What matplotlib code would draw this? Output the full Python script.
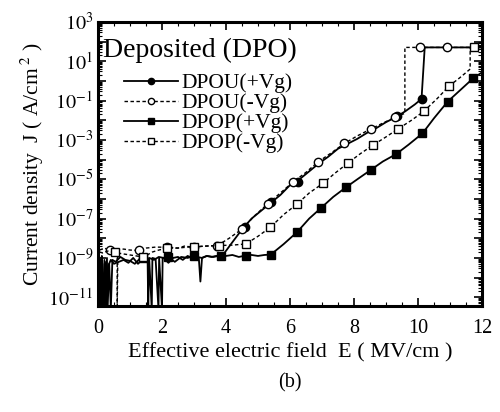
import matplotlib
matplotlib.use("Agg")
import matplotlib.pyplot as plt
import numpy as np
from matplotlib.ticker import MultipleLocator, LogLocator, FuncFormatter, NullFormatter

plt.rcParams['font.family'] = ['Liberation Serif', 'DejaVu Serif']
plt.rcParams['mathtext.fontset'] = 'stix'

# lines: field (MV/cm) and log10 of current density (A/cm^2)
dpou_p_x = [0.05, 0.1, 0.12, 0.15, 0.2, 0.22, 0.28, 0.3, 0.35, 0.4, 0.45, 0.55, 0.7, 0.85, 1.0, 1.15, 1.3,
            1.45, 1.6, 1.75, 1.9, 2.05, 2.2, 2.35, 2.5, 2.65, 2.8, 2.95, 3.1, 3.25, 3.4, 3.55,
            3.7, 3.9, 4.2, 4.5, 4.8, 5.1, 5.4, 5.7, 6.0, 6.3, 6.6, 6.9, 7.2, 7.5, 7.8, 8.1,
            8.4, 8.7, 9.0, 9.3, 9.6, 9.9, 10.11, 10.21, 11.0, 12.0]
dpou_p_y = [-9.0, -11.6, -8.9, -11.6, -9.1, -11.6, -9.0, -11.6, -9.3, -11.6, -9.1, -9.2, -8.95, -9.1, -9.15, -9.3, -9.05,
            -9.2, -9.0, -9.1, -8.95, -9.0, -9.25, -9.0, -8.95, -9.1, -8.9, -9.0, -8.95, -9.0, -8.9, -8.95,
            -8.9, -8.86, -8.2, -7.55, -7.0, -6.6, -6.2, -5.8, -5.3, -5.0, -4.6, -4.2, -3.85, -3.45, -3.2, -2.95,
            -2.65, -2.4, -2.1, -1.85, -1.55, -1.2, -0.92, 1.70, 1.70, 1.70]
dpou_p_mx = [4.6, 5.42, 6.24, 9.35, 10.11]
dpou_p_my = [-7.45, -6.17, -5.16, -1.8, -0.92]

dpou_n_x = [0.05, 0.2, 0.375, 0.6, 0.8, 1.0, 1.27, 1.5, 1.8, 2.16, 2.5, 2.7, 3.0, 3.3, 3.73,
            4.1, 4.51, 4.9, 5.3, 5.7, 6.08, 6.5, 6.86, 7.3, 7.7, 8.1, 8.52, 8.9, 9.27, 9.59,
            9.59, 12.0]
dpou_n_y = [-8.6, -8.5, -8.62, -8.6, -8.55, -8.6, -8.62, -8.5, -8.45, -8.46, -8.5, -8.4, -8.46, -8.4, -8.37,
            -8.0, -7.52, -6.85, -6.25, -5.7, -5.16, -4.65, -4.14, -3.65, -3.18, -2.8, -2.45, -2.15, -1.86, -1.65,
            1.70, 1.70]
dpou_n_mx = [0.375, 1.27, 2.16, 3.0, 3.73, 4.51, 5.3, 6.08, 6.86, 7.7, 8.52, 9.27, 10.06, 10.9]
dpou_n_my = [-8.62, -8.62, -8.46, -8.46, -8.37, -7.52, -6.25, -5.16, -4.14, -3.18, -2.45, -1.86, 1.70, 1.70]

dpop_p_x = [0.05, 0.08, 0.1, 0.14, 0.18, 0.25, 0.27, 0.32, 0.4, 0.5, 0.65, 0.8, 0.95, 1.1, 1.25, 1.4,
            1.55, 1.57, 1.6, 1.68, 1.7, 1.8, 1.89, 1.91, 2.0, 2.02, 2.2, 2.4, 2.6, 2.8, 3.0,
            3.15, 3.2, 3.25, 3.4, 3.6, 3.83, 4.0, 4.2, 4.4, 4.62, 4.8, 5.0, 5.2, 5.4, 5.8,
            6.22, 6.6, 6.97, 7.35, 7.75, 8.15, 8.54, 8.9, 9.32, 9.7, 10.14, 10.5, 10.93, 11.3, 11.73,
            12.0]
dpop_p_y = [-11.6, -9.1, -11.6, -9.3, -11.6, -9.2, -11.6, -9.4, -9.1, -9.3, -9.2, -9.1, -9.25, -9.0, -9.3, -9.05,
            -9.1, -11.6, -9.05, -11.6, -9.0, -9.05, -11.6, -9.0, -11.6, -9.0, -8.95, -9.2, -8.95, -9.0, -8.9,
            -9.0, -10.2, -9.0, -8.9, -8.95, -8.88, -8.9, -8.85, -8.95, -8.88, -8.85, -8.9, -8.85, -8.83, -8.3,
            -7.69, -7.0, -6.46, -5.9, -5.41, -4.95, -4.51, -4.1, -3.72, -3.25, -2.67, -1.9, -1.05, -0.5, 0.14,
            0.43]
dpop_p_mx = [1.4, 2.2, 3.0, 3.83, 4.62, 5.40, 6.22, 6.97, 7.75, 8.54, 9.32, 10.14, 10.93, 11.73]
dpop_p_my = [-9.0, -8.95, -8.9, -8.88, -8.88, -8.83, -7.69, -6.46, -5.41, -4.51, -3.72, -2.67, -1.05, 0.14]

dpop_n_x = [0.05, 0.15, 0.3, 0.4, 0.53, 0.6, 0.6, 0.62, 0.8, 1.0, 1.2, 1.42, 1.7, 1.9, 2.16,
            2.5, 2.8, 3.0, 3.4, 3.79, 4.2, 4.62, 5.0, 5.39, 5.8, 6.23, 6.6, 7.03, 7.4, 7.8,
            8.2, 8.6, 9.0, 9.37, 9.8, 10.18, 10.6, 10.98, 11.3, 11.63, 11.63, 12.0]
dpop_n_y = [-8.7, -8.75, -8.65, -8.7, -8.71, -8.7, -11.6, -8.75, -8.8, -8.85, -8.9, -8.96, -8.7, -8.6, -8.5,
            -8.5, -8.45, -8.43, -8.4, -8.37, -8.35, -8.29, -7.9, -7.44, -6.8, -6.25, -5.7, -5.21, -4.7, -4.19,
            -3.7, -3.26, -2.85, -2.45, -2.0, -1.55, -0.9, -0.25, 0.15, 0.6, 1.70, 1.70]
dpop_n_mx = [0.53, 1.42, 2.16, 3.0, 3.79, 4.62, 5.39, 6.23, 7.03, 7.8, 8.6, 9.37, 10.18, 10.98, 11.74]
dpop_n_my = [-8.71, -8.96, -8.5, -8.43, -8.37, -8.29, -7.44, -6.25, -5.21, -4.19, -3.26, -2.45, -1.55, -0.25, 1.70]

labels = ['DPOU(+Vg)', 'DPOU(-Vg)', 'DPOP(+Vg)', 'DPOP(-Vg)']

fig = plt.figure(figsize=(5.0, 4.12), dpi=100)
ax = fig.add_axes([0.196, 0.257, 0.768, 0.690])

dash = (0, (2.5, 1.8))
series = [
    (dpou_p_x, dpou_p_y, dpou_p_mx, dpou_p_my, '-', 'o', 'black', 1.3),
    (dpou_n_x, dpou_n_y, dpou_n_mx, dpou_n_my, dash, 'o', 'white', 1.0),
    (dpop_p_x, dpop_p_y, dpop_p_mx, dpop_p_my, '-', 's', 'black', 1.3),
    (dpop_n_x, dpop_n_y, dpop_n_mx, dpop_n_my, dash, 's', 'white', 1.0),
]
handles = []
for (lx, ly, mx, my, ls, mk, fc, lw), lab in zip(series, labels):
    ax.plot(lx, 10.0 ** np.array(ly), color='black', ls=ls, lw=lw)
    ax.plot(mx, 10.0 ** np.array(my), ls='none', marker=mk, ms=6 if mk == 'o' else 5.5,
            mfc=fc, mec='black', mew=1.0)
    h, = ax.plot([], [], color='black', ls=ls, lw=lw, marker=mk, ms=4.5 if mk == 'o' else 5,
                 mfc=fc, mec='black', mew=1.0, label=lab)
    handles.append(h)

ax.set_yscale('log')
ax.set_xlim(0, 12)
ax.set_ylim(10 ** -11.45, 1e3)

ax.xaxis.set_major_locator(MultipleLocator(2))
ax.xaxis.set_minor_locator(MultipleLocator(0.5))
ax.yaxis.set_major_locator(LogLocator(base=10, numticks=30))
ax.yaxis.set_minor_locator(LogLocator(base=10, subs=np.arange(2, 10), numticks=30))
ax.yaxis.set_minor_formatter(NullFormatter())


def ylab(v, pos):
    e = int(round(np.log10(v)))
    return r'$10^{%d}$' % e if e % 2 else ''


ax.yaxis.set_major_formatter(FuncFormatter(ylab))
ax.tick_params(which='both', direction='in', top=True, right=True, labelsize=14.5)
ax.tick_params(which='major', length=6, width=1.2)
ax.tick_params(which='minor', length=3, width=0.8)
ax.tick_params(axis='x', pad=9)
for s in ax.spines.values():
    s.set_linewidth(2.2)

ax.text(0.012, 0.90, 'Deposited (DPO)', transform=ax.transAxes, fontsize=20,
        va='center', ha='left')
ax.legend(handles=handles, loc='upper left', bbox_to_anchor=(0.035, 0.865), frameon=False,
          fontsize=15.5, handlelength=2.5, labelspacing=0.0, handletextpad=0.15,
          borderaxespad=0.2)

ax.set_xlabel('Effective electric field  E ( MV/cm )', fontsize=16, labelpad=4)
ax.set_ylabel(r'Current density  J ( A/cm$^{\ 2}$ )', fontsize=15.5, labelpad=2)
fig.text(0.58, 0.07, '(b)', fontsize=14.5, ha='center', va='center')

fig.savefig('out.png', dpi=100)
